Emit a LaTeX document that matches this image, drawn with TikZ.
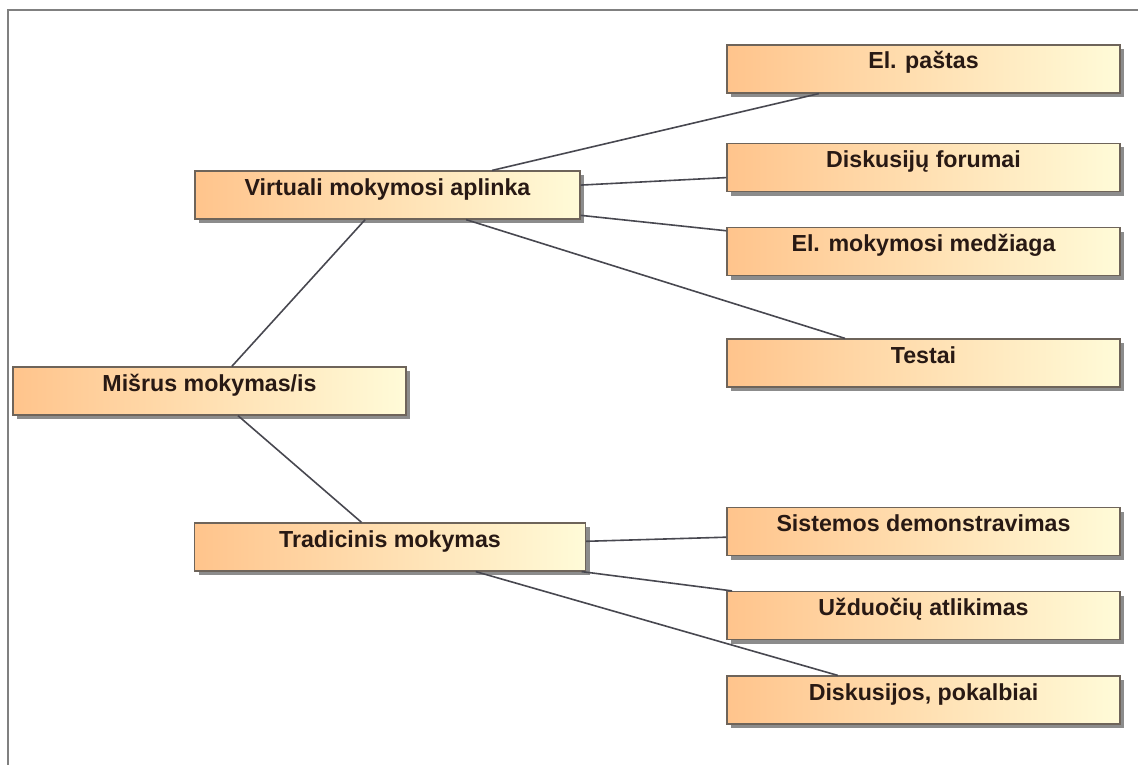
\documentclass[tikz,border=0pt]{standalone}
\usepackage{fontspec}
\setmainfont{Liberation Sans}
\usepackage{xcolor}
\usepackage{tikz}
\usetikzlibrary{shadows}

\definecolor{boxleft}{RGB}{255,196,140}
\definecolor{boxright}{RGB}{255,251,216}
\definecolor{boxline}{RGB}{110,100,90}
\definecolor{linkline}{RGB}{72,72,80}
\definecolor{textdark}{RGB}{40,25,20}
\definecolor{framegray}{RGB}{128,128,128}

\begin{document}
\begin{tikzpicture}[
  x=1pt, y=-1pt,
  font=\fontsize{23.2}{27}\selectfont\bfseries,
  topic/.style={draw=boxline, line width=1.2pt, left color=boxleft,
    right color=boxright, minimum width=393pt, minimum height=48pt,
    inner sep=0pt, text height=10pt, text depth=10pt, text=textdark,
    drop shadow={shadow xshift=4pt, shadow yshift=-4pt, fill=black,
      opacity=0.45}},
  link/.style={draw=linkline, line width=1.6pt}
]
\useasboundingbox (0,0) rectangle (1138,765);
\draw[framegray, line width=2pt] (8,770) -- (8,10) -- (1140,10);

\node[topic] (mixed) at (209.5,391) {Mišrus mokymas/is};
\node[topic, minimum width=385pt] (virtual) at (387.5,195) {Virtuali mokymosi aplinka};
\node[topic, minimum width=391pt] (classic) at (390,547) {Tradicinis mokymas};

\node[topic] (mail) at (923.5,69) {El. paštas};
\node[topic] (forums) at (923.5,167.5) {Diskusijų forumai};
\node[topic] (material) at (923.5,251.5) {El. mokymosi medžiaga};
\node[topic] (tests) at (923.5,363) {Testai};
\node[topic] (demo) at (923.5,531.5) {Sistemos demonstravimas};
\node[topic] (tasks) at (923.5,615.5) {Užduočių atlikimas};
\node[topic] (talks) at (923.5,700) {Diskusijos, pokalbiai};

\draw[link] (mixed) -- (virtual);
\draw[link] (mixed) -- (classic);
\draw[link] (virtual) -- (mail);
\draw[link] (virtual) -- (forums);
\draw[link] (virtual) -- (material);
\draw[link] (virtual) -- (tests);
\draw[link] (classic) -- (demo);
\draw[link] (classic) -- (tasks);
\draw[link] (classic) -- (talks);

\end{tikzpicture}
\end{document}
